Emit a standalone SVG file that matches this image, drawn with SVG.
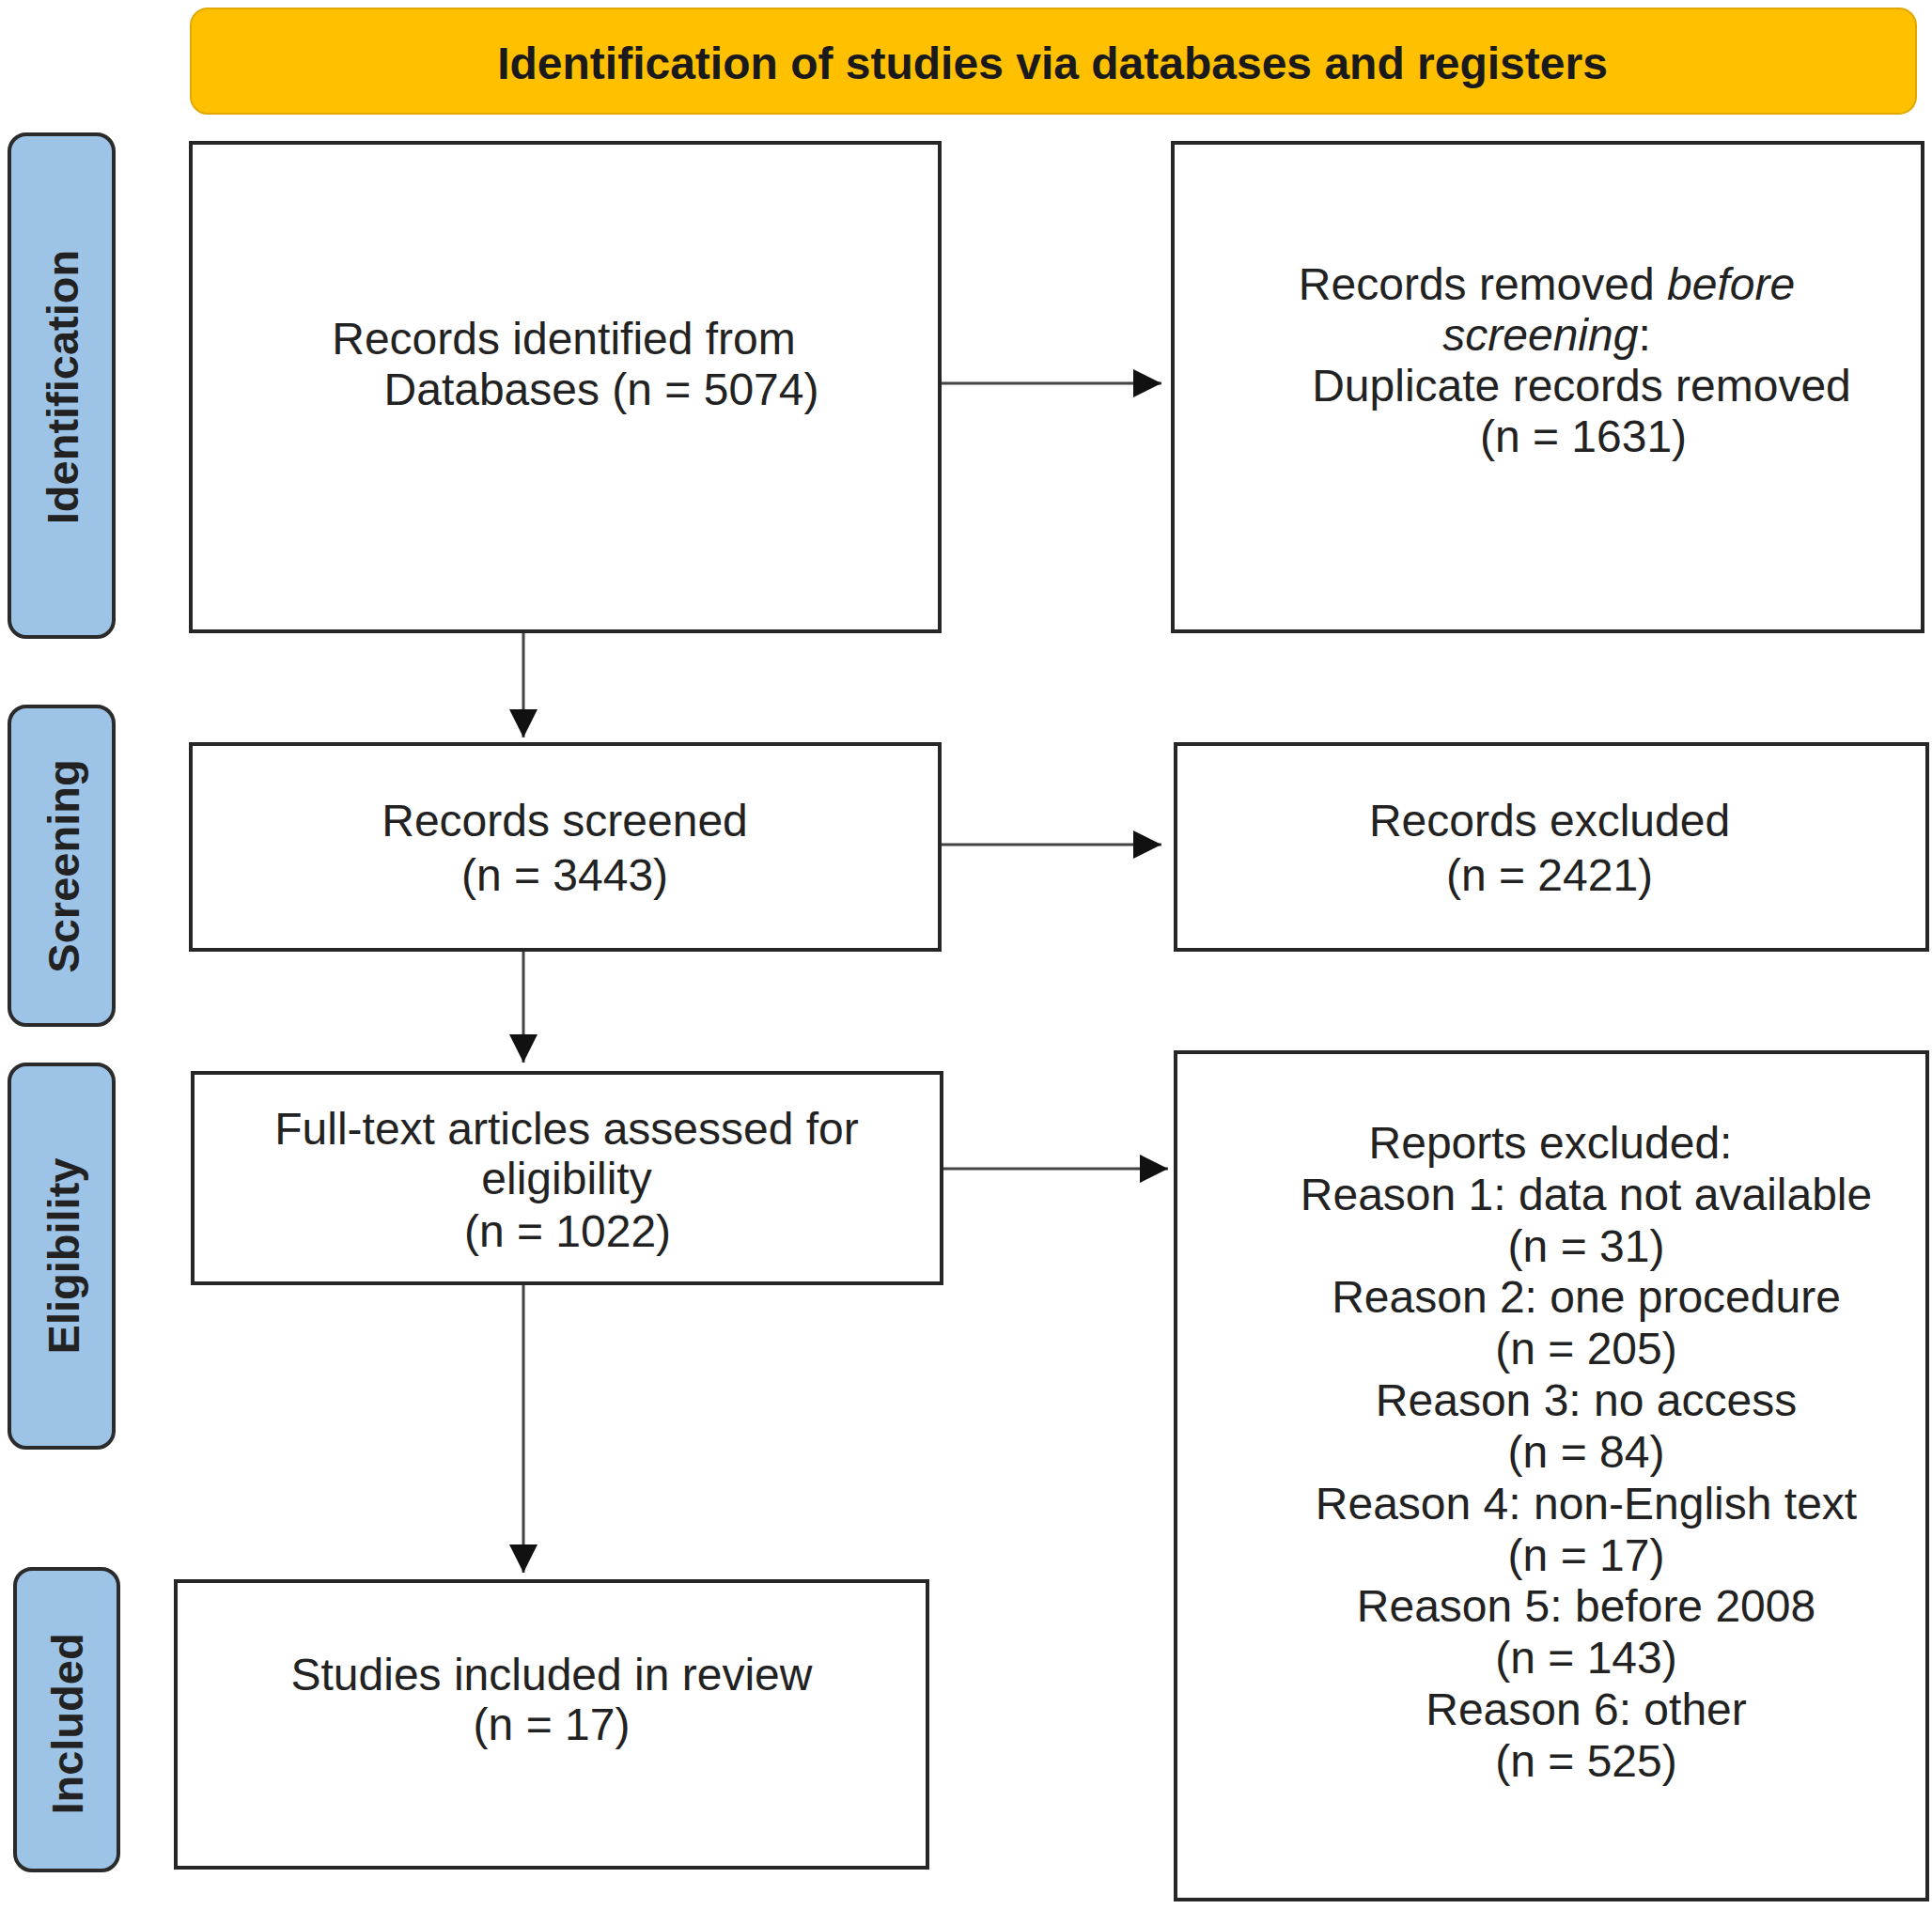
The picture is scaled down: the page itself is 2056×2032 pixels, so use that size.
<svg xmlns="http://www.w3.org/2000/svg" width="2056" height="2032" viewBox="0 0 2056 2032">
<style>
.box{fill:#fff;stroke:#262626;stroke-width:4}
.side{fill:#9DC3E6;stroke:#2b2b2b;stroke-width:4}
.t{font-family:"Liberation Sans",Arial,sans-serif;font-size:48px;fill:#222;text-anchor:middle}
.st{font-family:"Liberation Sans",Arial,sans-serif;font-size:47px;font-weight:bold;fill:#222;text-anchor:middle}
.hd{font-family:"Liberation Sans",Arial,sans-serif;font-size:48px;font-weight:bold;fill:#1a1a1a;text-anchor:middle}
.con{stroke:#444;stroke-width:3;fill:none;marker-end:url(#arr)}
</style>
<defs>
<marker id="arr" viewBox="0 0 30 30" refX="30" refY="15" markerWidth="30" markerHeight="30" orient="auto" markerUnits="userSpaceOnUse">
<path d="M0,0 L30,15 L0,30 z" fill="#111"/>
</marker>
</defs>
<rect width="2056" height="2032" fill="#fff"/>

<g id="header">
<rect x="203" y="9" width="1836" height="112" rx="18" fill="#FFC000" stroke="#E0A800" stroke-width="2"/>
<text class="hd" x="1120" y="84">Identification of studies via databases and registers</text>
</g>

<g id="side-identification">
<rect class="side" x="10" y="143" width="111" height="535" rx="18"/>
<text class="st" transform="translate(83,412) rotate(-90)">Identification</text>
</g>
<g id="side-screening">
<rect class="side" x="10" y="752" width="111" height="339" rx="18"/>
<text class="st" transform="translate(84,922) rotate(-90)">Screening</text>
</g>
<g id="side-eligibility">
<rect class="side" x="10" y="1133" width="111" height="408" rx="18"/>
<text class="st" transform="translate(84,1337) rotate(-90)">Eligibility</text>
</g>
<g id="side-included">
<rect class="side" x="16" y="1670" width="110" height="321" rx="18"/>
<text class="st" transform="translate(88,1835) rotate(-90)">Included</text>
</g>

<g id="connectors">
<line class="con" x1="1000" y1="408" x2="1236" y2="408"/>
<line class="con" x1="557" y1="672" x2="557" y2="785"/>
<line class="con" x1="1000" y1="899" x2="1236" y2="899"/>
<line class="con" x1="557" y1="1011" x2="557" y2="1131"/>
<line class="con" x1="1002" y1="1244" x2="1243" y2="1244"/>
<line class="con" x1="557" y1="1366" x2="557" y2="1674"/>
</g>

<g id="records-identified">
<rect class="box" x="203" y="152" width="797" height="520"/>
<text class="t" x="600" y="377">Records identified from</text>
<text class="t" x="640" y="431">Databases (n = 5074)</text>
</g>

<g id="records-removed">
<rect class="box" x="1248" y="152" width="798" height="520"/>
<text class="t" x="1646" y="319">Records removed <tspan font-style="italic">before</tspan></text>
<text class="t" x="1646" y="373"><tspan font-style="italic">screening</tspan>:</text>
<text class="t" x="1683" y="427">Duplicate records removed</text>
<text class="t" x="1685" y="481">(n = 1631)</text>
</g>

<g id="records-screened">
<rect class="box" x="203" y="792" width="797" height="219"/>
<text class="t" x="601" y="890">Records screened</text>
<text class="t" x="601" y="948">(n = 3443)</text>
</g>

<g id="records-excluded">
<rect class="box" x="1251" y="792" width="800" height="219"/>
<text class="t" x="1649" y="890">Records excluded</text>
<text class="t" x="1649" y="948">(n = 2421)</text>
</g>

<g id="full-text">
<rect class="box" x="205" y="1142" width="797" height="224"/>
<text class="t" x="603" y="1218">Full-text articles assessed for</text>
<text class="t" x="603" y="1271">eligibility</text>
<text class="t" x="604" y="1327">(n = 1022)</text>
</g>

<g id="reports-excluded">
<rect class="box" x="1251" y="1120" width="800" height="902"/>
<text class="t" x="1650" y="1233">Reports excluded:</text>
<text class="t" x="1688" y="1288">Reason 1: data not available</text>
<text class="t" x="1688" y="1343">(n = 31)</text>
<text class="t" x="1688" y="1397">Reason 2: one procedure</text>
<text class="t" x="1688" y="1452">(n = 205)</text>
<text class="t" x="1688" y="1507">Reason 3: no access</text>
<text class="t" x="1688" y="1562">(n = 84)</text>
<text class="t" x="1688" y="1617">Reason 4: non-English text</text>
<text class="t" x="1688" y="1672">(n = 17)</text>
<text class="t" x="1688" y="1726">Reason 5: before 2008</text>
<text class="t" x="1688" y="1781">(n = 143)</text>
<text class="t" x="1688" y="1836">Reason 6: other</text>
<text class="t" x="1688" y="1891">(n = 525)</text>
</g>

<g id="studies-included">
<rect class="box" x="187" y="1683" width="800" height="305"/>
<text class="t" x="587" y="1799">Studies included in review</text>
<text class="t" x="587" y="1852">(n = 17)</text>
</g>
</svg>
